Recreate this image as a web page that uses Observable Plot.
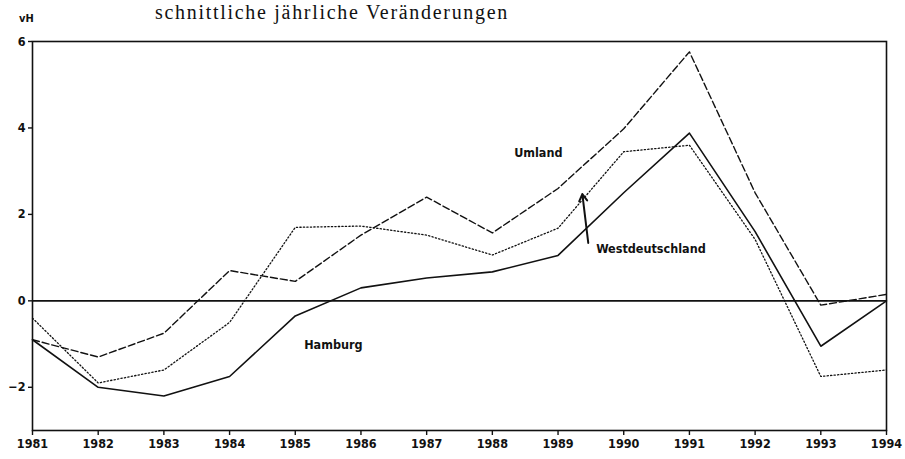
<!DOCTYPE html>
<html>
<head>
<meta charset="utf-8">
<script src="https://cdn.jsdelivr.net/npm/d3@7"></script>
<script src="https://cdn.jsdelivr.net/npm/@observablehq/plot@0.6"></script>
<style>
  html, body { margin: 0; padding: 0; background: #fff; }
  #wrap { position: relative; width: 905px; height: 459px; overflow: hidden; }
  #title { position: absolute; left: 155px; top: 1px; font-family: "Liberation Serif", serif; font-size: 20px; line-height: 22px; color: #111; white-space: nowrap; letter-spacing: 1.7px; }
  #unit { position: absolute; left: 19px; top: 12px; font-family: "DejaVu Sans Condensed", "DejaVu Sans", sans-serif; font-weight: bold; font-size: 11px; color: #111; }
</style>
</head>
<body>
<div id="wrap">
  <div id="chart"></div>
  <div id="title">schnittliche jährliche Veränderungen</div>
  <div id="unit">vH</div>
</div>
<script>
const years = [1981,1982,1983,1984,1985,1986,1987,1988,1989,1990,1991,1992,1993,1994];
const hamburg = [-0.9,-2.0,-2.2,-1.75,-0.35,0.3,0.53,0.67,1.05,2.5,3.88,1.6,-1.05,0.0];
const umland = [-0.9,-1.3,-0.75,0.7,0.45,1.52,2.4,1.57,2.6,3.98,5.76,2.5,-0.1,0.15];
const westdeutschland = [-0.4,-1.9,-1.6,-0.5,1.7,1.73,1.52,1.06,1.68,3.45,3.6,1.42,-1.75,-1.6];
const yTicks = [-2,0,2,4,6];
const centeredLabels = [
  {x: 1988.7, y: 3.43, text: "Umland"},
  {x: 1985.58, y: -1.02, text: "Hamburg"}
];
const startLabels = [
  {x: 1989.58, y: 1.2, text: "Westdeutschland"}
];
const arrowData = [{x1: 1989.46, y1: 1.34, x2: 1989.37, y2: 2.47}];

const series = [
  {name: "Hamburg", values: hamburg, dash: null, width: 1.6},
  {name: "Umland", values: umland, dash: "7,3", width: 1.4},
  {name: "Westdeutschland", values: westdeutschland, dash: "1.3,2.2", width: 1.3}
];
const data = series.flatMap(s => years.map((yr, i) => ({year: yr, value: s.values[i], series: s.name})));

const font = '"DejaVu Sans Condensed", "DejaVu Sans", sans-serif';

const chart = Plot.plot({
  width: 905,
  height: 459,
  marginLeft: 32,
  marginRight: 19,
  marginTop: 41,
  marginBottom: 29,
  style: {fontFamily: font, fontSize: "12px", fontWeight: "bold", color: "#111", background: "#fff"},
  x: {domain: [1981, 1994], ticks: years, tickFormat: d => String(d), label: null},
  y: {domain: [-3, 6], ticks: yTicks, label: null},
  marks: [
    Plot.frame({stroke: "#111", strokeWidth: 1.6}),
    Plot.ruleY([0], {stroke: "#111", strokeWidth: 1.6}),
    Plot.axisX({ticks: years, tickFormat: d => String(d), tickSize: 5, tickPadding: 4, label: null, fontSize: 12.5, fontWeight: "bold", stroke: "#111", strokeWidth: 1.4}),
    Plot.axisY({ticks: yTicks, tickSize: 4, tickPadding: 3, label: null, fontSize: 12.5, fontWeight: "bold", stroke: "#111", strokeWidth: 1.4}),
    ...series.map(s => Plot.line(data.filter(d => d.series === s.name), {
      x: "year", y: "value", stroke: "#111", strokeWidth: s.width,
      strokeDasharray: s.dash, curve: "linear"
    })),
    Plot.arrow(arrowData, {x1: "x1", y1: "y1", x2: "x2", y2: "y2", stroke: "#111", strokeWidth: 2, headLength: 6}),
    Plot.text(centeredLabels, {x: "x", y: "y", text: "text", textAnchor: "middle", fontSize: 12.5, fontWeight: "bold", fill: "#111", fontFamily: font}),
    Plot.text(startLabels, {x: "x", y: "y", text: "text", textAnchor: "start", fontSize: 12.5, fontWeight: "bold", fill: "#111", fontFamily: font})
  ]
});
document.getElementById("chart").appendChild(chart);
</script>
</body>
</html>
